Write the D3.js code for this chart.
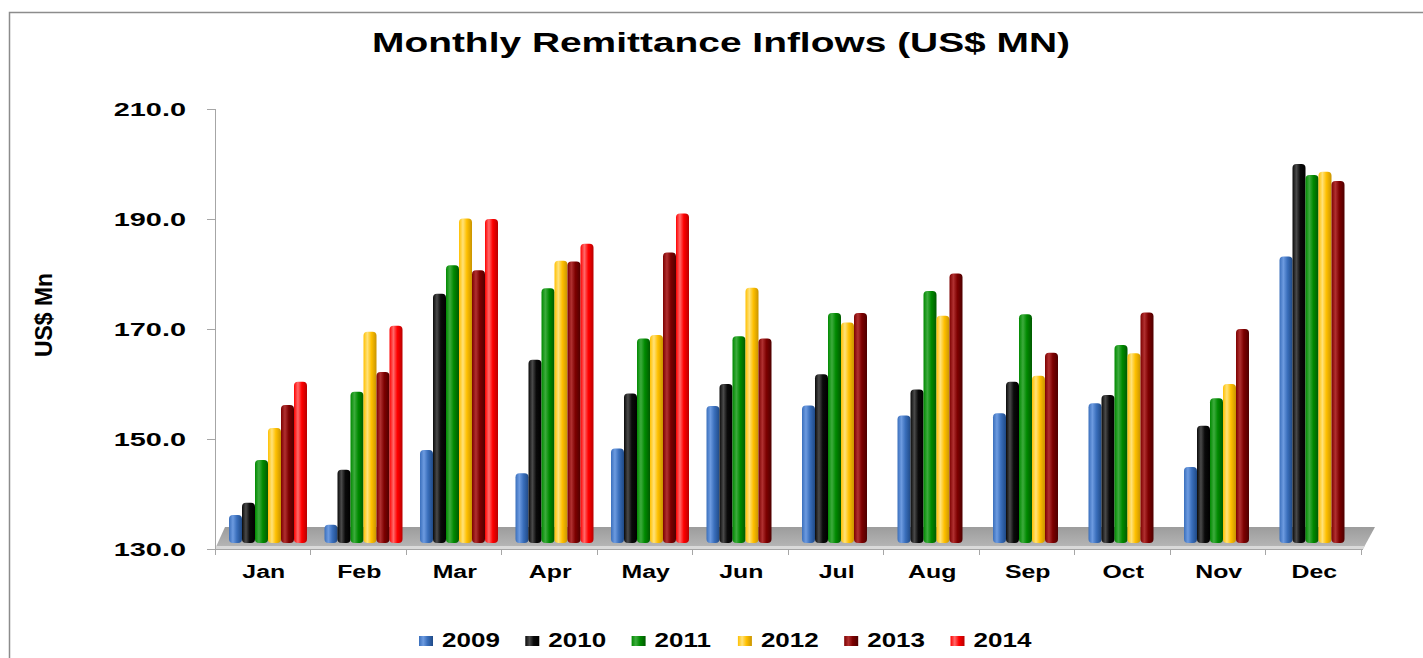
<!DOCTYPE html>
<meta charset="utf-8">
<style>
body { margin: 0; background: #fff; }
svg { font-family: "Liberation Sans", Arial, sans-serif; font-weight: bold; }
.axis path, .axis line { fill: none; stroke: #a6a6a6; shape-rendering: crispEdges; }
</style>
<body>
<script src="https://cdn.jsdelivr.net/npm/d3@7"></script>
<script>

var months = ["Jan","Feb","Mar","Apr","May","Jun","Jul","Aug","Sep","Oct","Nov","Dec"];
var years = ["2009","2010","2011","2012","2013","2014"];
var yTicks = [130, 150, 170, 190, 210];

// one array per year, null where there's no bar
var v2009 = [135.1, 133.3, 146.9, 142.7, 147.2, 154.9, 155.0, 153.2, 153.6, 155.4, 143.8, 182.1];
var v2010 = [137.3, 143.3, 175.3, 163.3, 157.2, 158.9, 160.7, 157.9, 159.3, 156.9, 151.3, 198.9];
var v2011 = [145.1, 157.5, 180.5, 176.3, 167.2, 167.6, 171.8, 175.8, 171.6, 166.0, 156.3, 196.9];
var v2012 = [150.9, 168.4, 189.0, 181.3, 167.8, 176.4, 170.1, 171.3, 160.4, 164.5, 158.9, 197.5];
var v2013 = [155.1, 161.1, 179.6, 181.2, 182.8, 167.2, 171.8, 179.0, 164.6, 171.9, 168.9, 195.8];
var v2014 = [159.3, 169.5, 188.9, 184.4, 189.9, null, null, null, null, null, null, null];

var series = [v2009, v2010, v2011, v2012, v2013, v2014];
var colors = [
  ["#6d9be0", "#3a6fbc", "#1f4a87"],
  ["#4a4a4a", "#0a0a0a", "#000000"],
  ["#3dab3d", "#008a00", "#005a00"],
  ["#ffe27a", "#ffc000", "#c99400"],
  ["#b03030", "#7d0000", "#4f0000"],
  ["#ff6a6a", "#ff0000", "#b80000"]
];

var width = 1423, height = 658;
var depth = 6;

var svg = d3.select("body").append("svg")
  .attr("width", width)
  .attr("height", height);

// the source chart has its text stretched sideways
function stretch(sel, k) {
  sel.each(function () {
    var len = this.getComputedTextLength();
    d3.select(this).attr("textLength", len * k).attr("lengthAdjust", "spacingAndGlyphs");
  });
}

var defs = svg.append("defs");
colors.forEach(function (c, i) {
  var g = defs.append("linearGradient").attr("id", "grad" + i)
    .attr("x1", "0").attr("x2", "1").attr("y1", "0").attr("y2", "0");
  g.append("stop").attr("offset", "0").attr("stop-color", c[1]);
  g.append("stop").attr("offset", "0.3").attr("stop-color", c[0]);
  g.append("stop").attr("offset", "0.6").attr("stop-color", c[1]);
  g.append("stop").attr("offset", "1").attr("stop-color", c[2]);
});
var fg = defs.append("linearGradient").attr("id", "floor")
  .attr("x1", "0").attr("x2", "0").attr("y1", "0").attr("y2", "1");
fg.append("stop").attr("offset", "0").attr("stop-color", "#9c9c9c");
fg.append("stop").attr("offset", "1").attr("stop-color", "#b8b8b8");

// outer frame
svg.append("rect")
  .attr("x", 9.5).attr("y", 12.5)
  .attr("width", 1440).attr("height", 700)
  .attr("fill", "none").attr("stroke", "#8c8c8c").attr("stroke-width", 1.5);

svg.append("text")
  .attr("x", 721).attr("y", 52)
  .attr("text-anchor", "middle")
  .attr("font-size", 28)
  .attr("textLength", 698).attr("lengthAdjust", "spacingAndGlyphs")
  .text("Monthly Remittance Inflows (US$ MN)");

var x = d3.scaleBand().domain(months).range([215, 1361]);
var xi = d3.scaleBand().domain(years).range([14, 92]);
var y = d3.scaleLinear().domain([130, 210]).range([549, 109]);

// floor
var x0 = x.range()[0], x1 = x.range()[1];
svg.append("path")
  .attr("d", "M" + x0 + "," + y(130) + "L" + (x1 + 2) + "," + y(130) +
    "L" + (x1 + 14) + "," + (y(130) - 22) + "L" + (x0 + 10) + "," + (y(130) - 22) + "Z")
  .attr("fill", "url(#floor)");
svg.append("path")
  .attr("d", "M" + x0 + "," + (y(130) - 3) + "L" + (x1 + 4) + "," + (y(130) - 3) +
    "L" + (x1 + 2) + "," + y(130) + "L" + x0 + "," + y(130) + "Z")
  .attr("fill", "#d9d9d9");

// y axis
svg.append("g")
  .attr("class", "axis")
  .attr("transform", "translate(" + x0 + ",0)")
  .call(d3.axisLeft(y).tickValues(yTicks).tickFormat(d3.format(".1f")).tickSize(8).tickPadding(21))
  .call(function (g) {
    g.selectAll("text").attr("font-size", 19).attr("fill", "#000")
      .attr("font-family", "Liberation Sans, Arial, sans-serif").attr("font-weight", "bold")
      .call(stretch, 1.52);
  });

// x axis line and ticks at category boundaries
var xa = svg.append("g").attr("class", "axis");
xa.append("line").attr("x1", x0).attr("x2", x1 + 2).attr("y1", y(130)).attr("y2", y(130));
xa.selectAll(".tk").data(months.concat(["end"])).enter().append("line")
  .attr("x1", function (d, i) { return x0 + i * x.bandwidth(); })
  .attr("x2", function (d, i) { return x0 + i * x.bandwidth(); })
  .attr("y1", y(130)).attr("y2", y(130) + 6);

svg.selectAll(".mlabel").data(months).enter().append("text")
  .attr("x", function (d) { return x(d) + x.bandwidth() / 2 + 1; })
  .attr("y", 578)
  .attr("text-anchor", "middle")
  .attr("font-size", 18)
  .text(function (d) { return d; })
  .call(stretch, 1.38);

// bars
series.forEach(function (vals, si) {
  svg.append("g").selectAll("rect")
    .data(vals.map(function (v, mi) { return { m: months[mi], v: v }; })
      .filter(function (d) { return d.v != null; }))
    .enter().append("rect")
    .attr("x", function (d) { return x(d.m) + xi(years[si]); })
    .attr("width", xi.bandwidth())
    .attr("y", function (d) { return y(d.v) - depth; })
    .attr("height", function (d) { return y(130) - y(d.v); })
    .attr("rx", 4)
    .attr("fill", "url(#grad" + si + ")");
});

// y axis title
svg.append("text")
  .attr("transform", "translate(52,315) rotate(-90)")
  .attr("text-anchor", "middle")
  .attr("font-size", 24)
  .attr("textLength", 84).attr("lengthAdjust", "spacingAndGlyphs")
  .text("US$ Mn");

// legend
var legend = svg.append("g").selectAll("g").data(years).enter().append("g")
  .attr("transform", function (d, i) { return "translate(" + (419 + i * 106.3) + ",636)"; });
legend.append("rect")
  .attr("width", 14).attr("height", 10)
  .attr("fill", function (d, i) { return "url(#grad" + i + ")"; });
legend.append("text")
  .attr("x", 23).attr("y", 11)
  .attr("font-size", 20)
  .text(function (d) { return d; })
  .call(stretch, 1.3);

</script>
